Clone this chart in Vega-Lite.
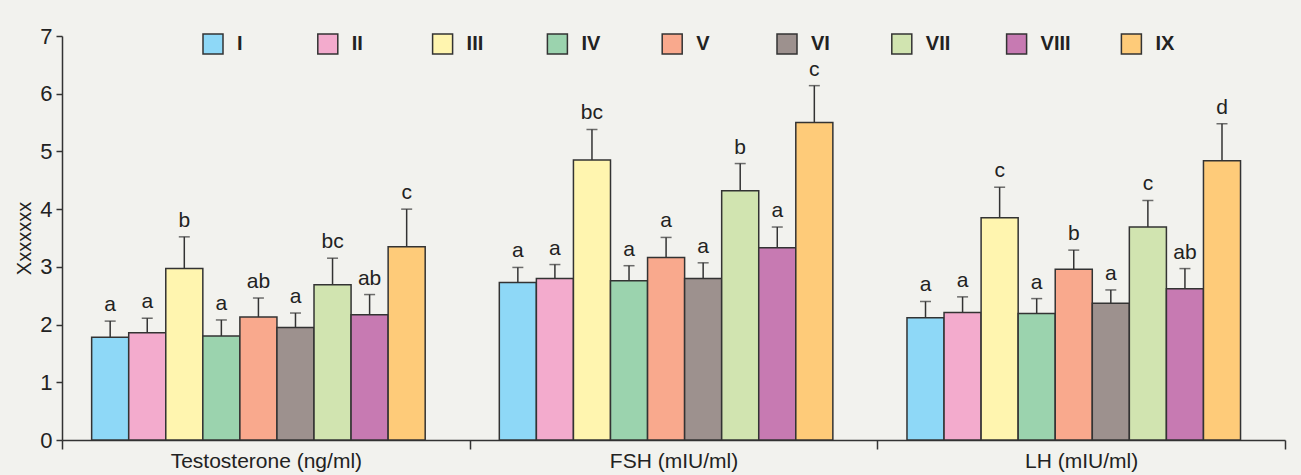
{
  "$schema": "https://vega.github.io/schema/vega-lite/v6.json",
  "autosize": "none",
  "width": 1223,
  "height": 404,
  "padding": {"left": 62, "top": 36, "right": 16, "bottom": 35},
  "background": "#f2f2ee",
  "config": {
    "view": {"stroke": null},
    "font": "Liberation Sans",
    "axis": {"domainColor": "#333", "tickColor": "#333", "labelColor": "#222", "titleColor": "#222", "domainWidth": 1.5, "tickWidth": 1.5, "grid": false}
  },
  "data": {
    "values": [
      {"hormone": "Testosterone (ng/ml)", "group": "I", "value": 1.78, "err": 2.06, "letter": "a"},
      {"hormone": "Testosterone (ng/ml)", "group": "II", "value": 1.86, "err": 2.11, "letter": "a"},
      {"hormone": "Testosterone (ng/ml)", "group": "III", "value": 2.97, "err": 3.52, "letter": "b"},
      {"hormone": "Testosterone (ng/ml)", "group": "IV", "value": 1.8, "err": 2.08, "letter": "a"},
      {"hormone": "Testosterone (ng/ml)", "group": "V", "value": 2.13, "err": 2.46, "letter": "ab"},
      {"hormone": "Testosterone (ng/ml)", "group": "VI", "value": 1.95, "err": 2.2, "letter": "a"},
      {"hormone": "Testosterone (ng/ml)", "group": "VII", "value": 2.69, "err": 3.15, "letter": "bc"},
      {"hormone": "Testosterone (ng/ml)", "group": "VIII", "value": 2.17, "err": 2.52, "letter": "ab"},
      {"hormone": "Testosterone (ng/ml)", "group": "IX", "value": 3.35, "err": 4.0, "letter": "c"},
      {"hormone": "FSH (mIU/ml)", "group": "I", "value": 2.73, "err": 2.99, "letter": "a"},
      {"hormone": "FSH (mIU/ml)", "group": "II", "value": 2.8, "err": 3.04, "letter": "a"},
      {"hormone": "FSH (mIU/ml)", "group": "III", "value": 4.85, "err": 5.38, "letter": "bc"},
      {"hormone": "FSH (mIU/ml)", "group": "IV", "value": 2.76, "err": 3.02, "letter": "a"},
      {"hormone": "FSH (mIU/ml)", "group": "V", "value": 3.16, "err": 3.51, "letter": "a"},
      {"hormone": "FSH (mIU/ml)", "group": "VI", "value": 2.8, "err": 3.07, "letter": "a"},
      {"hormone": "FSH (mIU/ml)", "group": "VII", "value": 4.32, "err": 4.79, "letter": "b"},
      {"hormone": "FSH (mIU/ml)", "group": "VIII", "value": 3.33, "err": 3.69, "letter": "a"},
      {"hormone": "FSH (mIU/ml)", "group": "IX", "value": 5.5, "err": 6.14, "letter": "c"},
      {"hormone": "LH (mIU/ml)", "group": "I", "value": 2.12, "err": 2.4, "letter": "a"},
      {"hormone": "LH (mIU/ml)", "group": "II", "value": 2.21, "err": 2.48, "letter": "a"},
      {"hormone": "LH (mIU/ml)", "group": "III", "value": 3.85, "err": 4.38, "letter": "c"},
      {"hormone": "LH (mIU/ml)", "group": "IV", "value": 2.19, "err": 2.45, "letter": "a"},
      {"hormone": "LH (mIU/ml)", "group": "V", "value": 2.96, "err": 3.29, "letter": "b"},
      {"hormone": "LH (mIU/ml)", "group": "VI", "value": 2.37, "err": 2.6, "letter": "a"},
      {"hormone": "LH (mIU/ml)", "group": "VII", "value": 3.69, "err": 4.15, "letter": "c"},
      {"hormone": "LH (mIU/ml)", "group": "VIII", "value": 2.62, "err": 2.97, "letter": "ab"},
      {"hormone": "LH (mIU/ml)", "group": "IX", "value": 4.84, "err": 5.48, "letter": "d"}
    ]
  },
  "encoding": {
    "x": {
      "field": "hormone", "type": "nominal",
      "sort": ["Testosterone (ng/ml)", "FSH (mIU/ml)", "LH (mIU/ml)"],
      "scale": {"paddingInner": 0, "paddingOuter": 0},
      "axis": {"title": null, "labelAngle": 0, "tickBand": "extent", "tickSize": 9, "labelFontSize": 21, "labelPadding": 1, "labelLimit": 0}
    },
    "xOffset": {
      "field": "group", "type": "nominal",
      "sort": ["I", "II", "III", "IV", "V", "VI", "VII", "VIII", "IX"],
      "scale": {"paddingInner": 0, "paddingOuter": 1.03, "align": 0.4}
    }
  },
  "layer": [
    {
      "mark": {"type": "rule", "color": "#333", "strokeWidth": 1.5},
      "encoding": {
        "y": {"field": "value", "type": "quantitative"},
        "y2": {"field": "err"}
      }
    },
    {
      "mark": {"type": "tick", "color": "#333", "size": 11, "thickness": 1.5},
      "encoding": {
        "y": {"field": "err", "type": "quantitative"}
      }
    },
    {
      "mark": {"type": "bar", "stroke": "#333", "strokeWidth": 1.5, "opacity": 1},
      "encoding": {
        "y": {
          "field": "value", "type": "quantitative",
          "scale": {"domain": [0, 7], "nice": false},
          "axis": {"title": "Xxxxxxx", "values": [0, 1, 2, 3, 4, 5, 6, 7], "format": "d", "tickSize": 6, "labelPadding": 4, "labelFontSize": 22, "titleFontSize": 20, "titleFontWeight": "normal", "titlePadding": 5}
        },
        "color": {
          "field": "group", "type": "nominal",
          "sort": ["I", "II", "III", "IV", "V", "VI", "VII", "VIII", "IX"],
          "scale": {
            "domain": ["I", "II", "III", "IV", "V", "VI", "VII", "VIII", "IX"],
            "range": ["#8ED8F7", "#F3ABCD", "#FFF5AF", "#9BD3AE", "#F9A98D", "#9D918E", "#D1E4B0", "#C77AB2", "#FECB79"]
          },
          "legend": {
            "title": null, "orient": "none", "legendX": 140, "legendY": -3,
            "direction": "horizontal", "columns": 9, "gridAlign": "all",
            "symbolType": "square", "symbolSize": 400, "symbolStrokeColor": "#333", "symbolStrokeWidth": 1.5, "symbolOpacity": 1,
            "labelFontSize": 20, "labelFontWeight": "bold", "labelColor": "#222", "labelOffset": 13, "columnPadding": 46.8
          }
        }
      }
    },
    {
      "mark": {"type": "text", "baseline": "bottom", "dy": -6, "fontSize": 21, "color": "#222"},
      "encoding": {
        "y": {"field": "err", "type": "quantitative"},
        "text": {"field": "letter"}
      }
    }
  ]
}
